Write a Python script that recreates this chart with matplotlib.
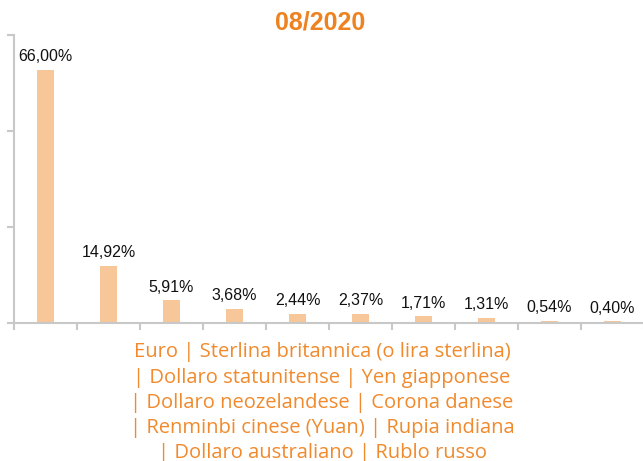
import matplotlib
matplotlib.use("Agg")
import matplotlib.pyplot as plt

categories = ["Euro", "Sterlina britannica (o lira sterlina)", "Dollaro statunitense",
              "Yen giapponese", "Dollaro neozelandese", "Corona danese",
              "Renminbi cinese (Yuan)", "Rupia indiana", "Dollaro australiano", "Rublo russo"]
values = [66.00, 14.92, 5.91, 3.68, 2.44, 2.37, 1.71, 1.31, 0.54, 0.40]
title = "08/2020"
xlabel = ("Euro | Sterlina britannica (o lira sterlina)\n| Dollaro statunitense | Yen giapponese\n"
          "| Dollaro neozelandese | Corona danese\n| Renminbi cinese (Yuan) | Rupia indiana\n"
          "| Dollaro australiano | Rublo russo")

orange = "#EE8220"
label_orange = "#F08A2C"
bar_color = "#F7C699"
axis_color = "#C8C8C8"

fig = plt.figure(figsize=(6.43, 4.61), dpi=100)
ax = fig.add_axes([14 / 643, 1 - 323 / 461, 630 / 643, 288 / 461])
x = list(range(len(values)))
ax.bar(x, values, width=0.27, color=bar_color)
for xi, v in zip(x, values):
    ax.annotate(f"{v:.2f}".replace(".", ",") + "%", (xi, v), xytext=(0, 4),
                textcoords="offset points", ha="center", va="bottom",
                fontsize=11.5, family="Liberation Sans", color="#111111")
ax.set_xlim(-0.5, len(values) - 0.5)
ax.set_ylim(0, 75)
ax.set_yticks([0, 25, 50, 75])
ax.set_yticklabels([])
ax.set_xticks([i - 0.5 for i in range(len(values) + 1)])
ax.set_xticklabels([])
for s in ["top", "right"]:
    ax.spines[s].set_visible(False)
for s in ["left", "bottom"]:
    ax.spines[s].set_color(axis_color)
    ax.spines[s].set_linewidth(1.5)
ax.tick_params(axis="both", color=axis_color, width=1.5, length=5)
ax.set_xlabel(xlabel, color=label_orange, family="Open Sans", fontsize=14.5,
              linespacing=1.34, labelpad=5.5)
ax.xaxis.label.set_x((322 - 14) / 630)
fig.text(320 / 643, 1 - 23 / 461, title, ha="center", va="center", color=orange,
         fontsize=18, fontweight="bold", family="Liberation Sans")
fig.savefig("out.png", dpi=100)
